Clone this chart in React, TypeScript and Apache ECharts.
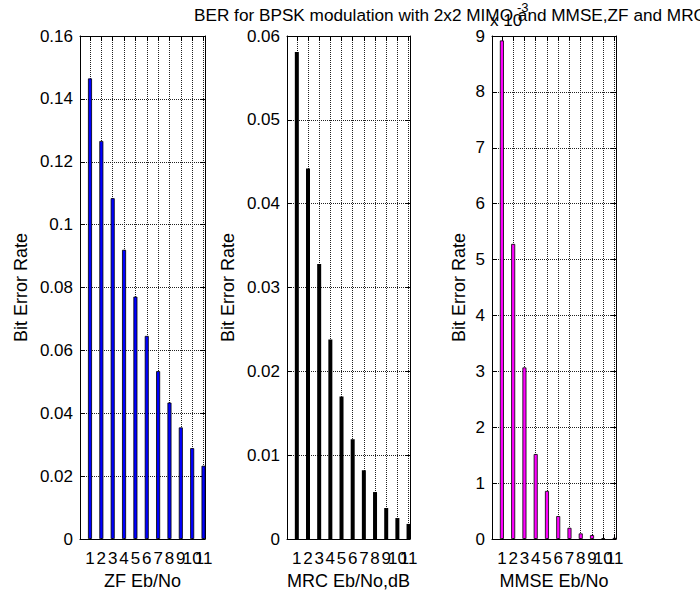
import React, { useEffect, useRef } from "react";
import * as echarts from "echarts";

// Eb/No index (x categories)
const ebNo = [1, 2, 3, 4, 5, 6, 7, 8, 9, 10, 11];

// Bit error rate per receiver
const zfBer = [0.1465, 0.1266, 0.1084, 0.092, 0.0771, 0.0646, 0.0534, 0.0434, 0.0355, 0.0289, 0.0233];
const mrcBer = [0.0581, 0.0442, 0.0328, 0.0238, 0.017, 0.0119, 0.0082, 0.0056, 0.0037, 0.0025, 0.0018];
const mmseBer = [0.00892, 0.00528, 0.00307, 0.00152, 0.00086, 0.00041, 0.0002, 0.0001, 0.00007, 0.000015, 0.00002];

// Y axis ranges
const yMaxes = [0.16, 0.06, 0.009];
const ySteps = [0.02, 0.01, 0.001];

const titleText = "BER for BPSK modulation with 2x2 MIMO and MMSE,ZF and MRC";
const xNames = ["ZF Eb/No", "MRC Eb/No,dB", "MMSE Eb/No"];
const yName = "Bit Error Rate";

const FONT = "'Liberation Sans', Arial, Helvetica, sans-serif";

export default function App() {
  const ref = useRef<HTMLDivElement>(null);
  useEffect(() => {
    if (!ref.current) return;
    const chart = echarts.init(ref.current, null, { renderer: "svg" });
    const grids = [
      { left: 80, top: 36, width: 125, height: 503 },
      { left: 287, top: 36, width: 123, height: 503 },
      { left: 492, top: 36, width: 124, height: 503 },
    ];
    const seriesData = [zfBer, mrcBer, mmseBer];
    const colors = ["#0000ff", "#000000", "#ff00ff"];
    const yNameGaps = [50, 50, 24];
    const xMin = 0.12;
    const xMax = 11.13;
    const dotted = { color: "#222", width: 1, type: [1, 1] as number[] };
    // the tenth label overlaps its neighbours (as in the reference), so it lives on its own overlay axis
    const crowded = ebNo[ebNo.length - 2];
    const mainLabels = ebNo.filter((v) => v !== crowded);
    const labelStyle = { color: "#000", fontSize: 17, fontFamily: FONT, margin: 11 };

    const xAxis: any[] = [];
    const yAxis: any[] = [];
    const series: any[] = [];
    grids.forEach((g, i) => {
      xAxis.push({
        type: "value",
        gridIndex: i,
        position: "bottom",
        min: xMin,
        max: xMax,
        name: xNames[i],
        nameLocation: "middle",
        nameGap: 33,
        nameTextStyle: { color: "#000", fontSize: 18, fontFamily: FONT },
        axisLine: { show: true, onZero: false, lineStyle: { color: "#000", width: 1 } },
        axisTick: { show: true, inside: true, length: 5, customValues: ebNo, lineStyle: { color: "#000" } },
        axisLabel: { show: true, customValues: mainLabels, ...labelStyle, showMinLabel: true, showMaxLabel: true },
        splitLine: { show: true, lineStyle: dotted },
      });
      xAxis.push({
        type: "value",
        gridIndex: i,
        position: "top",
        min: xMin,
        max: xMax,
        axisLine: { show: true, onZero: false, lineStyle: { color: "#000", width: 1 } },
        axisTick: { show: true, inside: true, length: 5, customValues: ebNo, lineStyle: { color: "#000" } },
        axisLabel: { show: false },
        splitLine: { show: false },
      });
      xAxis.push({
        type: "value",
        gridIndex: i,
        position: "bottom",
        offset: 0,
        min: xMin,
        max: xMax,
        axisLine: { show: false },
        axisTick: { show: false },
        axisLabel: { show: true, customValues: [crowded], ...labelStyle, showMinLabel: true, showMaxLabel: true },
        splitLine: { show: false },
      });
      const fmt = i === 2 ? (v: number) => String(Math.round(v * 1000)) : undefined;
      yAxis.push({
        type: "value",
        gridIndex: i,
        position: "left",
        min: 0,
        max: yMaxes[i],
        interval: ySteps[i],
        name: yName,
        nameLocation: "middle",
        nameGap: yNameGaps[i],
        nameTextStyle: { color: "#000", fontSize: 18, fontFamily: FONT },
        axisLine: { show: true, onZero: false, lineStyle: { color: "#000", width: 1 } },
        axisTick: { show: true, inside: true, length: 5, lineStyle: { color: "#000" } },
        axisLabel: { color: "#000", fontSize: 17, fontFamily: FONT, margin: 7, formatter: fmt },
        splitLine: { show: true, lineStyle: dotted },
      });
      yAxis.push({
        type: "value",
        gridIndex: i,
        position: "right",
        min: 0,
        max: yMaxes[i],
        interval: ySteps[i],
        axisLine: { show: true, onZero: false, lineStyle: { color: "#000", width: 1 } },
        axisTick: { show: true, inside: true, length: 5, lineStyle: { color: "#000" } },
        axisLabel: { show: false },
        splitLine: { show: false },
      });
      series.push({
        type: "bar",
        xAxisIndex: i * 3,
        yAxisIndex: i * 2,
        barWidth: 4,
        clip: true,
        itemStyle: { color: colors[i], borderColor: "#000", borderWidth: i === 1 ? 0 : 0.8 },
        data: ebNo.map((x, k) => [x, seriesData[i][k]]),
      });
    });

    chart.setOption({
      animation: false,
      backgroundColor: "#fff",
      textStyle: { fontFamily: FONT },
      title: {
        text: titleText,
        left: 189,
        top: 1,
        textStyle: { color: "#000", fontSize: 17.2, fontWeight: "normal", fontFamily: FONT },
      },
      grid: grids.map((g) => ({ ...g, containLabel: false, outerBoundsMode: "none" })),
      xAxis,
      yAxis,
      series,
      graphic: [
        {
          type: "text",
          left: 490,
          top: 12,
          style: { text: "x 10", fill: "#000", fontSize: 17, fontFamily: FONT },
        },
        {
          type: "text",
          left: 517,
          top: 1,
          style: { text: "-3", fill: "#000", fontSize: 13, fontFamily: FONT },
        },
      ],
    });
    return () => chart.dispose();
  }, []);
  return (
    <div
      ref={ref}
      style={{ position: "fixed", left: 0, top: 0, width: 700, height: 592, background: "#fff" }}
    />
  );
}
